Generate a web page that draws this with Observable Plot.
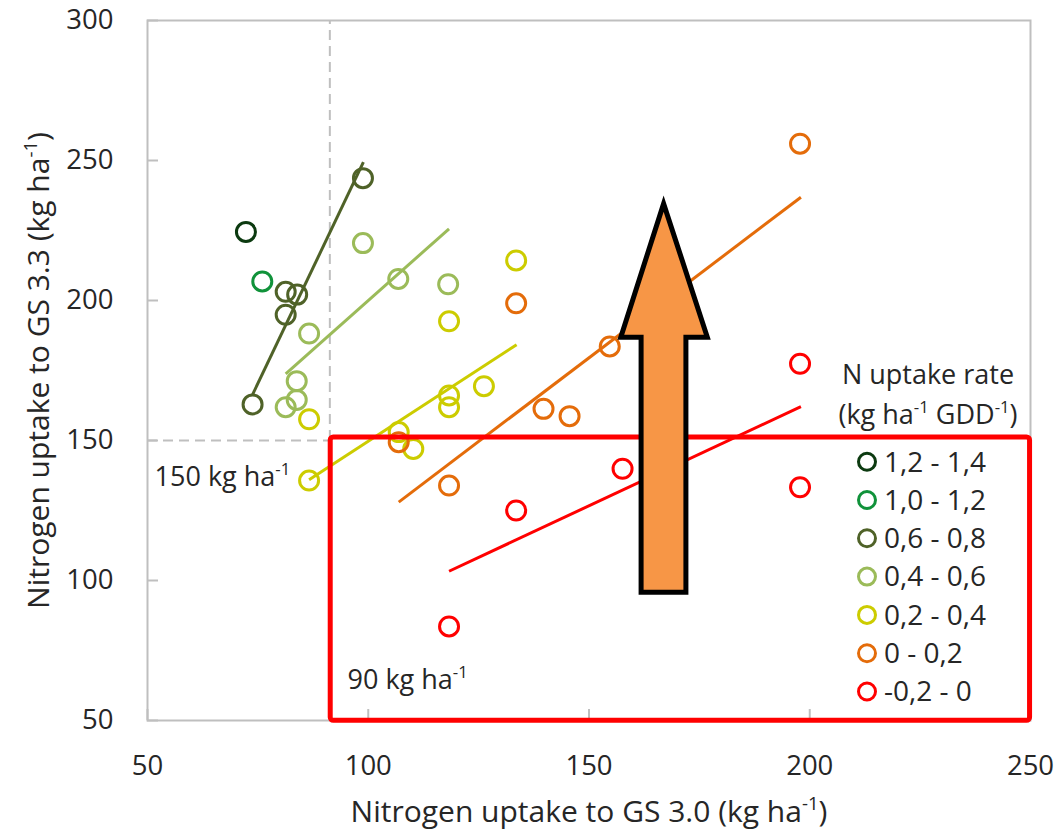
<!DOCTYPE html>
<html>
<head>
<meta charset="utf-8">
<script src="https://cdn.jsdelivr.net/npm/d3@7"></script>
<script src="https://cdn.jsdelivr.net/npm/@observablehq/plot@0.6"></script>
<style>
  html, body { margin: 0; padding: 0; background: #ffffff; }
  #chart svg { display: block; }
</style>
</head>
<body>
<div id="chart"></div>
<script>
// ---------- data ----------
const rateClasses = ["1,2 - 1,4", "1,0 - 1,2", "0,6 - 0,8", "0,4 - 0,6", "0,2 - 0,4", "0 - 0,2", "-0,2 - 0"];

// each point: class index, N uptake to GS 3.0, N uptake to GS 3.3 (kg ha-1)
const pointClass = [
  0,
  1,
  2, 2, 2, 2, 2,
  3, 3, 3, 3, 3, 3, 3,
  4, 4, 4, 4, 4, 4, 4, 4, 4,
  5, 5, 5, 5, 5, 5, 5,
  6, 6, 6, 6, 6
];
const uptakeGS30 = [
  72.3,
  76.0,
  98.8, 81.3, 83.9, 81.3, 73.8,
  98.8, 106.8, 118.1, 86.6, 83.8, 83.8, 81.3,
  133.5, 118.3, 86.6, 126.2, 118.3, 118.3, 106.9, 110.2, 86.6,
  197.8, 133.5, 154.7, 139.7, 145.6, 106.9, 118.3,
  197.8, 197.8, 157.6, 133.5, 118.3
];
const uptakeGS33 = [
  224.5,
  206.8,
  243.7, 203.1, 202.1, 194.9, 162.9,
  220.5, 207.7, 205.8, 188.2, 171.2, 164.5, 161.9,
  214.3, 192.6, 157.6, 169.4, 166.1, 161.9, 153.0, 147.0, 135.7,
  256.0, 199.0, 183.6, 161.3, 158.7, 149.4, 133.9,
  177.4, 133.3, 139.9, 125.0, 83.6
];

// linear trend lines (start / end) per class
const trendClass  = [2, 3, 4, 5, 6];
const trendXStart = [73.8, 81.3, 86.6, 106.9, 118.3];
const trendYStart = [166.4, 173.8, 136.0, 128.0, 103.3];
const trendXEnd   = [98.9, 118.3, 133.6, 198.0, 198.0];
const trendYEnd   = [249.4, 225.6, 184.2, 236.9, 162.1];

// axes
const xDomain = [50, 250];
const yDomain = [50, 300];
const xTicks = [50, 100, 150, 200, 250];
const yTicks = [50, 100, 150, 200, 250, 300];
const xTitle = "Nitrogen uptake to GS 3.0 (kg ha⁻¹)";
const yTitle = "Nitrogen uptake to GS 3.3 (kg ha⁻¹)";
const legendTitle = ["N uptake rate", "(kg ha⁻¹ GDD⁻¹)"];

// reference thresholds (dashed guides) and their labels
const thresholdGS30 = 91.3;
const thresholdGS33 = 150;
const guideLabels = ["150 kg ha⁻¹", "90 kg ha⁻¹"];
const guideLabelX = [51.6, 95.3];
const guideLabelY = [136.8, 64.3];

// highlighted region (x > 90, y < 150)
const boxX = [91.5, 249.9];
const boxY = [49.9, 151.1];

// upward arrow outline (data units)
const arrowX = [166.85, 171.95, 171.95, 176.8, 166.9, 157.2, 161.8, 161.8, 166.85];
const arrowY = [95.8, 95.8, 186.9, 186.9, 234.6, 186.9, 186.9, 95.8, 95.8];

// ---------- styling ----------
const classColors = ["#0c3a10", "#10923a", "#4f6228", "#9bbb59", "#cccc00", "#e46c0a", "#ff0000"];
const FONT = "'Open Sans', Lato, sans-serif";
const TEXT = "#262626";
const GRID = "#bfbfbf";

const points = uptakeGS30.map((x, i) => ({x, y: uptakeGS33[i], cls: rateClasses[pointClass[i]]}));
const trends = trendClass.map((c, i) => ({
  cls: rateClasses[c], x1: trendXStart[i], y1: trendYStart[i], x2: trendXEnd[i], y2: trendYEnd[i]
}));
const guides = guideLabels.map((t, i) => ({t, x: guideLabelX[i], y: guideLabelY[i]}));
const arrow = arrowX.map((x, i) => ({x, y: arrowY[i]}));

const legendMark = (index, scales, values, dims) => {
  const right = dims.width - dims.marginRight;
  const top = dims.marginTop;
  const g = d3.create("svg:g")
    .attr("font-family", FONT)
    .attr("font-size", 27)
    .attr("fill", TEXT);
  legendTitle.forEach((t, i) => {
    g.append("text")
      .attr("x", right - 102)
      .attr("y", top + 355 + i * 40)
      .attr("text-anchor", "middle")
      .attr("dy", "0.35em")
      .text(t);
  });
  rateClasses.forEach((c, i) => {
    const cy = top + 441.7 + i * 38.3;
    g.append("circle")
      .attr("cx", right - 163)
      .attr("cy", cy)
      .attr("r", 8.5)
      .attr("fill", "none")
      .attr("stroke", scales.color(c))
      .attr("stroke-width", 3);
    g.append("text")
      .attr("x", right - 146)
      .attr("y", cy)
      .attr("dy", "0.35em")
      .attr("text-anchor", "start")
      .attr("font-size", 28)
      .text(c);
  });
  return g.node();
};

const chart = Plot.plot({
  width: 1058,
  height: 834,
  marginLeft: 147,
  marginRight: 28,
  marginTop: 20,
  marginBottom: 114,
  x: {domain: xDomain},
  y: {domain: yDomain},
  color: {domain: rateClasses, range: classColors},
  style: {fontFamily: FONT, fontSize: "27px", color: TEXT, background: "#ffffff"},
  marks: [
    Plot.frame({stroke: GRID, strokeWidth: 2}),
    Plot.axisY(yTicks, {tickSize: 11, dx: 11, fill: "none", label: null, stroke: GRID, strokeWidth: 2}),
    Plot.axisY(yTicks, {tickSize: 0, tickPadding: 34, label: null, fontSize: 27.5, fill: TEXT}),
    Plot.axisX(xTicks, {tickSize: 11, dy: -11, fill: "none", label: null, stroke: GRID, strokeWidth: 2}),
    Plot.axisX(xTicks, {tickSize: 0, tickPadding: 35, label: null, fontSize: 27.5, fill: TEXT}),
    Plot.ruleX([thresholdGS30], {y1: thresholdGS33, y2: yDomain[1], stroke: GRID, strokeWidth: 2, strokeDasharray: "10,6"}),
    Plot.ruleY([thresholdGS33], {x1: xDomain[0], x2: thresholdGS30, stroke: GRID, strokeWidth: 2, strokeDasharray: "10,6"}),
    Plot.link(trends, {x1: "x1", y1: "y1", x2: "x2", y2: "y2", stroke: "cls", strokeWidth: 3}),
    Plot.dot(points, {x: "x", y: "y", stroke: "cls", r: 9.5, strokeWidth: 3, fill: "none"}),
    Plot.rect([{x1: boxX[0], x2: boxX[1], y1: boxY[0], y2: boxY[1]}],
      {x1: "x1", x2: "x2", y1: "y1", y2: "y2", fill: "none", stroke: "#ff0000", strokeWidth: 5, rx: 3}),
    Plot.line(arrow, {x: "x", y: "y", fill: "#f79646", stroke: "#000000", strokeWidth: 5,
      strokeLinejoin: "miter", strokeLinecap: "butt", strokeMiterlimit: 10}),
    Plot.text(guides, {x: "x", y: "y", text: "t", textAnchor: "start", fontSize: 27, fill: TEXT}),
    Plot.text([xTitle], {frameAnchor: "bottom", lineAnchor: "middle", dy: 92, fontSize: 30, fill: TEXT}),
    Plot.text([yTitle], {frameAnchor: "left", lineAnchor: "middle", textAnchor: "middle", dx: -108, rotate: -90, fontSize: 30, fill: TEXT}),
    legendMark
  ]
});

// render "⁻¹" as a raised small "-1"
function superscripts(root) {
  const ns = "http://www.w3.org/2000/svg";
  root.querySelectorAll("text").forEach(t => {
    if (t.children.length) return;
    const s = t.textContent;
    if (!s.includes("⁻¹")) return;
    t.textContent = "";
    const parts = s.split("⁻¹");
    parts.forEach((p, i) => {
      if (p) {
        const ts = document.createElementNS(ns, "tspan");
        ts.textContent = p;
        t.appendChild(ts);
      }
      if (i < parts.length - 1) {
        const sup = document.createElementNS(ns, "tspan");
        sup.setAttribute("baseline-shift", "super");
        sup.setAttribute("font-size", "0.62em");
        sup.textContent = "-1";
        t.appendChild(sup);
      }
    });
  });
}
superscripts(chart);
document.getElementById("chart").appendChild(chart);
</script>
</body>
</html>
